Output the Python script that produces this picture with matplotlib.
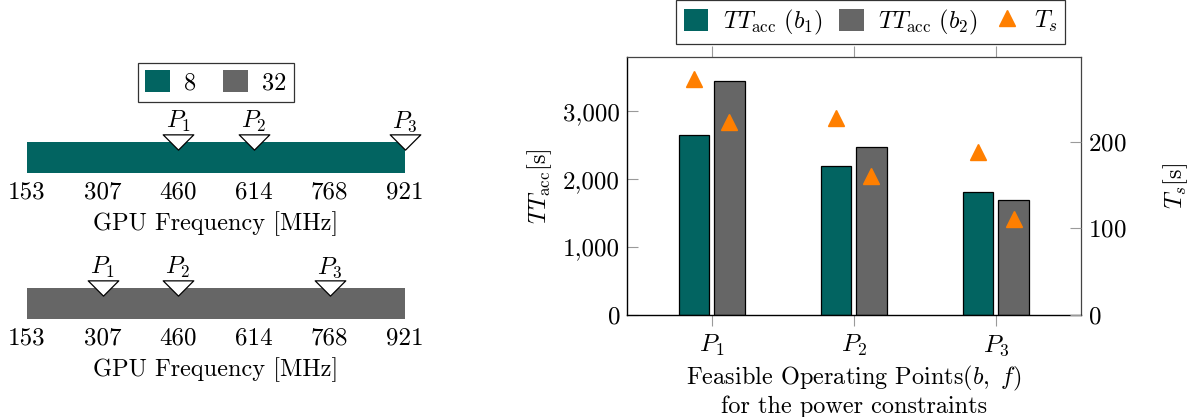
import matplotlib
matplotlib.use('Agg')
import matplotlib.pyplot as plt
from matplotlib.patches import Patch
from matplotlib.lines import Line2D
from matplotlib.path import Path
from matplotlib.ticker import FuncFormatter

plt.rcParams['font.family'] = 'serif'
plt.rcParams['font.serif'] = ['cmr10']
plt.rcParams['mathtext.fontset'] = 'cm'
plt.rcParams['axes.unicode_minus'] = False
plt.rcParams['axes.formatter.use_mathtext'] = True

# ---------------- data ----------------
freq_ticks = [153, 307, 460, 614, 768, 921]
batch_labels = ['8', '32']
points_b8 = [460, 614, 921]
points_b32 = [307, 460, 768]
point_labels = ['$P_1$', '$P_2$', '$P_3$']

categories = ['$P_1$', '$P_2$', '$P_3$']
tt_b1 = [2650, 2200, 1810]
tt_b2 = [3450, 2470, 1700]
ts_b1 = [273, 228, 188]
ts_b2 = [223, 160, 111]
left_ticks = [0, 1000, 2000, 3000]
right_ticks = [0, 100, 200]

# ---------------- style ----------------
TEAL = '#026461'
GRAY = '#666666'
ORANGE = '#ff7f00'
TICKGRAY = '#9a9a9a'
FS = 17.5
TFS = 18

W, H = 1191, 417
fig = plt.figure(figsize=(W / 100, H / 100), dpi=100)


def px(x0, y_top, w, h):
    return [x0 / W, 1 - (y_top + h) / H, w / W, h / H]


down_tri = Path([(-1, 0.5), (1, 0.5), (0, -0.5), (-1, 0.5)],
                [Path.MOVETO, Path.LINETO, Path.LINETO, Path.CLOSEPOLY])

bar_specs = [
    (px(27, 141.7, 378, 31), TEAL, points_b8),
    (px(27, 287.7, 378, 31), GRAY, points_b32),
]
for pos, color, pts in bar_specs:
    ax = fig.add_axes(pos)
    ax.barh([0.5], [freq_ticks[-1] - freq_ticks[0]], left=freq_ticks[0],
            height=1.0, color=color, edgecolor='none')
    ax.set_xlim(freq_ticks[0], freq_ticks[-1])
    ax.set_ylim(0, 1)
    for s in ax.spines.values():
        s.set_visible(False)
    ax.set_yticks([])
    ax.set_xticks(freq_ticks)
    ax.set_xticklabels([str(t) for t in freq_ticks], fontsize=TFS)
    ax.tick_params(axis='x', length=0, pad=6)
    ax.set_xlabel('GPU Frequency [MHz]', fontsize=FS, labelpad=6)
    ax.plot(pts, [1.0] * len(pts), linestyle='none', marker=down_tri,
            markersize=22, markerfacecolor='white', markeredgecolor='black',
            markeredgewidth=0.9, clip_on=False, zorder=5)
    for x, lab in zip(pts, point_labels):
        ax.annotate(lab, (x, 1.0), xytext=(0, 10), textcoords='offset points',
                    ha='center', va='baseline', fontsize=FS,
                    annotation_clip=False)

leg1 = fig.legend(handles=[Patch(facecolor=TEAL, edgecolor='none'),
                           Patch(facecolor=GRAY, edgecolor='none')],
                  labels=batch_labels, loc='center', ncol=2,
                  bbox_to_anchor=(216 / W, 1 - 82.5 / H), fontsize=FS,
                  frameon=True, fancybox=False, edgecolor='black',
                  handlelength=1.0, handleheight=1.0, handletextpad=0.6,
                  columnspacing=1.1, borderpad=0.3)
leg1.get_frame().set_linewidth(0.9)

# ---------------- right chart ----------------
ax2 = fig.add_axes(px(627, 57, 454, 258))
x = list(range(1, len(categories) + 1))
off = 0.125
bw = 0.215
ax2.bar([v - off for v in x], tt_b1, width=bw, color=TEAL, edgecolor='black',
        linewidth=0.9, zorder=2)
ax2.bar([v + off for v in x], tt_b2, width=bw, color=GRAY, edgecolor='black',
        linewidth=0.9, zorder=2)
ax2.set_xlim(0.405, 3.6)
ax2.set_ylim(0, 3800)
ax2.set_xticks(x)
ax2.set_xticklabels(categories, fontsize=TFS)
ax2.set_yticks(left_ticks)
ax2.yaxis.set_major_formatter(FuncFormatter(lambda v, p: f'{int(v):,}'))
ax2.tick_params(axis='x', direction='out', length=8, color=TICKGRAY,
                top=True, bottom=True, labelsize=TFS, pad=5)
ax2.tick_params(axis='y', direction='in', length=8, color=TICKGRAY,
                labelsize=TFS, pad=5)
ax2.set_ylabel(r'$TT_{\mathrm{acc}}$[s]', fontsize=FS)
ax2.yaxis.set_label_coords((540 - 627) / 454, 0.5)
ax2.yaxis.label.set_va('center')
ax2.set_xlabel('Feasible Operating Points$(b,\\ f)$\nfor the power constraints',
               fontsize=FS, labelpad=4, linespacing=1.15)
for side in ['left', 'bottom']:
    ax2.spines[side].set_color('black')
    ax2.spines[side].set_linewidth(1.0)
for side in ['top', 'right']:
    ax2.spines[side].set_color('#444444')
    ax2.spines[side].set_linewidth(0.9)

ax3 = ax2.twinx()
ax3.plot([v - off for v in x], ts_b1, linestyle='none', marker='^',
         markersize=12, color=ORANGE, zorder=4)
ax3.plot([v + off for v in x], ts_b2, linestyle='none', marker='^',
         markersize=12, color=ORANGE, zorder=4)
ax3.set_ylim(0, 298)
ax3.set_yticks(right_ticks)
ax3.tick_params(axis='y', direction='in', length=8, color=TICKGRAY,
                labelsize=TFS, pad=5)
ax3.set_ylabel(r'$T_s$[s]', fontsize=FS)
ax3.yaxis.set_label_coords((1176 - 627) / 454, 0.5)
ax3.yaxis.label.set_va('center')
for s in ax3.spines.values():
    s.set_visible(False)

leg2 = fig.legend(
    handles=[Patch(facecolor=TEAL, edgecolor='none'),
             Patch(facecolor=GRAY, edgecolor='none'),
             Line2D([], [], linestyle='none', marker='^', markersize=12,
                    color=ORANGE)],
    labels=[r'$TT_{\mathrm{acc}}\ (b_1)$', r'$TT_{\mathrm{acc}}\ (b_2)$',
            r'$T_s$'],
    loc='center', ncol=3, bbox_to_anchor=(870.5 / W, 1 - 22 / H),
    fontsize=FS, frameon=True, fancybox=False, edgecolor='black',
    handlelength=1.0, handleheight=1.0, handletextpad=0.6,
    columnspacing=0.7, borderpad=0.3)
leg2.get_frame().set_linewidth(0.9)

fig.savefig('out.png', dpi=100)
